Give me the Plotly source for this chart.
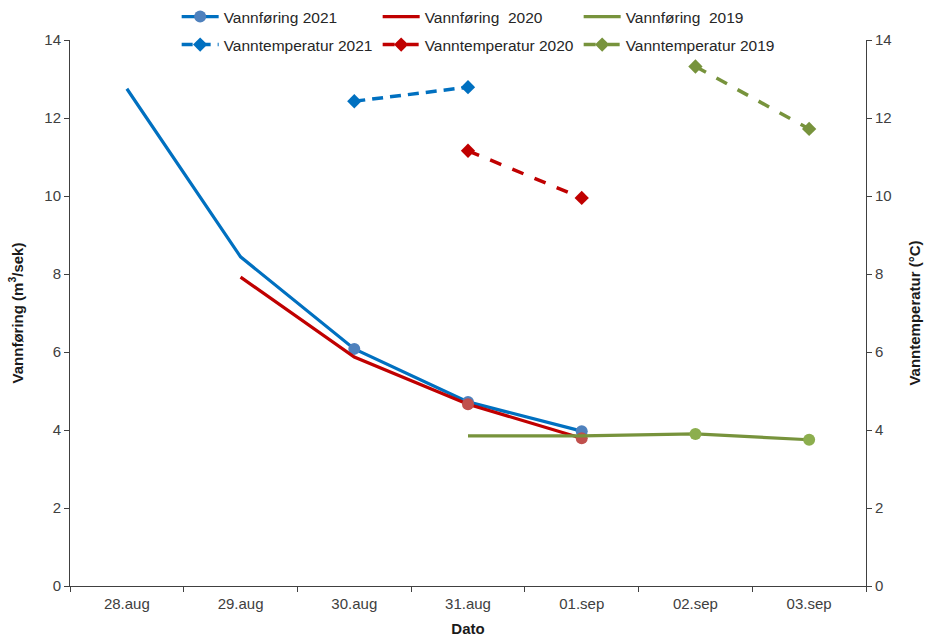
import plotly.graph_objects as go

# Dates on the shared category axis
dates = ["28.aug", "29.aug", "30.aug", "31.aug", "01.sep", "02.sep", "03.sep"]

# Water discharge (m3/s)
flow_2021 = [12.75, 8.44, 6.08, 4.72, 3.97, None, None]
flow_2020 = [None, 7.92, 5.87, 4.66, 3.79, None, None]
flow_2019 = [None, None, None, 3.85, 3.85, 3.90, 3.75]

# Indices of discharge points drawn with a circle marker
marked_2021 = [2, 3, 4]
marked_2020 = [3, 4]
marked_2019 = [5, 6]

# Water temperature (deg C)
temp_2021 = [None, None, 12.43, 12.79, None, None, None]
temp_2020 = [None, None, None, 11.16, 9.95, None, None]
temp_2019 = [None, None, None, None, None, 13.32, 11.72]

FONT = "Liberation Sans, Arial, sans-serif"
AXIS_COLOR = "#404040"

fig = go.Figure()

# --- discharge (left axis) ---
fig.add_trace(go.Scatter(
    x=dates, y=flow_2021, name="Vannføring 2021", mode="lines+markers",
    line=dict(color="#0070C0", width=3.2),
    marker=dict(color="#4F81BD", size=12, symbol="circle"),
    selectedpoints=marked_2021,
    selected=dict(marker=dict(opacity=1)),
    unselected=dict(marker=dict(opacity=0)),
    legend="legend",
))
fig.add_trace(go.Scatter(
    x=dates, y=flow_2020, name="Vannføring  2020", mode="lines",
    line=dict(color="#C00000", width=3.2), legend="legend",
))
fig.add_trace(go.Scatter(
    x=dates, y=flow_2020, mode="markers", showlegend=False,
    marker=dict(color="#C0504D", size=12, symbol="circle"),
    selectedpoints=marked_2020,
    selected=dict(marker=dict(opacity=1)),
    unselected=dict(marker=dict(opacity=0)),
    hoverinfo="skip",
))
fig.add_trace(go.Scatter(
    x=dates, y=flow_2019, name="Vannføring  2019", mode="lines",
    line=dict(color="#77933C", width=3.2), legend="legend",
))
fig.add_trace(go.Scatter(
    x=dates, y=flow_2019, mode="markers", showlegend=False,
    marker=dict(color="#8CAE4E", size=12, symbol="circle"),
    selectedpoints=marked_2019,
    selected=dict(marker=dict(opacity=1)),
    unselected=dict(marker=dict(opacity=0)),
    hoverinfo="skip",
))

# --- temperature (right axis) ---
fig.add_trace(go.Scatter(
    x=dates, y=temp_2021, name="Vanntemperatur 2021", mode="lines+markers",
    line=dict(color="#0070C0", width=3.5, dash="11px,7px"),
    marker=dict(color="#0070C0", size=11, symbol="diamond"),
    yaxis="y2", legend="legend2",
))
fig.add_trace(go.Scatter(
    x=dates, y=temp_2020, name="Vanntemperatur 2020", mode="lines+markers",
    line=dict(color="#C00000", width=3.5, dash="12px,12px"),
    marker=dict(color="#C00000", size=11, symbol="diamond"),
    yaxis="y2", legend="legend2",
))
fig.add_trace(go.Scatter(
    x=dates, y=temp_2019, name="Vanntemperatur 2019", mode="lines+markers",
    line=dict(color="#77933C", width=3.5, dash="12px,12px"),
    marker=dict(color="#77933C", size=11, symbol="diamond"),
    yaxis="y2", legend="legend2",
))

tick_font = dict(family=FONT, size=15, color=AXIS_COLOR)
title_font = dict(family=FONT, size=15, color="#1a1a1a", weight="bold")

legend_common = dict(
    orientation="h", xanchor="left", yanchor="middle",
    itemwidth=37, entrywidth=149, entrywidthmode="pixels",
    font=dict(family=FONT, size=15.5, color="#262626"),
    bgcolor="rgba(0,0,0,0)", traceorder="normal",
)

fig.update_layout(
    width=928, height=637,
    margin=dict(l=70, r=62, t=40, b=51, autoexpand=False),
    paper_bgcolor="white", plot_bgcolor="white",
    legend=dict(x=0.134, y=1 + 23 / 546, **legend_common),
    legend2=dict(x=0.134, y=1 - 5 / 546, **legend_common),
    xaxis=dict(
        type="category", categoryorder="array", categoryarray=dates,
        range=[-0.5, len(dates) - 0.5],
        showline=True, linecolor=AXIS_COLOR, linewidth=1,
        ticks="outside", ticklen=5, tickcolor=AXIS_COLOR, tickson="boundaries",
        ticklabelstandoff=4,
        showgrid=False, zeroline=False, tickfont=tick_font,
        title=dict(text="Dato", font=title_font, standoff=12),
    ),
    yaxis=dict(
        range=[0, 14], dtick=2, showline=True, linecolor=AXIS_COLOR, linewidth=1,
        ticks="outside", ticklen=5, tickcolor=AXIS_COLOR,
        showgrid=False, zeroline=False, tickfont=tick_font,
        title=dict(text="Vannføring (m<sup>3</sup>/sek)", font=title_font, standoff=17),
    ),
    yaxis2=dict(
        range=[0, 14], dtick=2, overlaying="y", side="right",
        showline=True, linecolor=AXIS_COLOR, linewidth=1,
        ticks="outside", ticklen=5, tickcolor=AXIS_COLOR,
        showgrid=False, zeroline=False, tickfont=tick_font,
        title=dict(text="Vanntemperatur (°C)", font=title_font, standoff=18),
    ),
    showlegend=True,
)

fig.write_html("out.html")
